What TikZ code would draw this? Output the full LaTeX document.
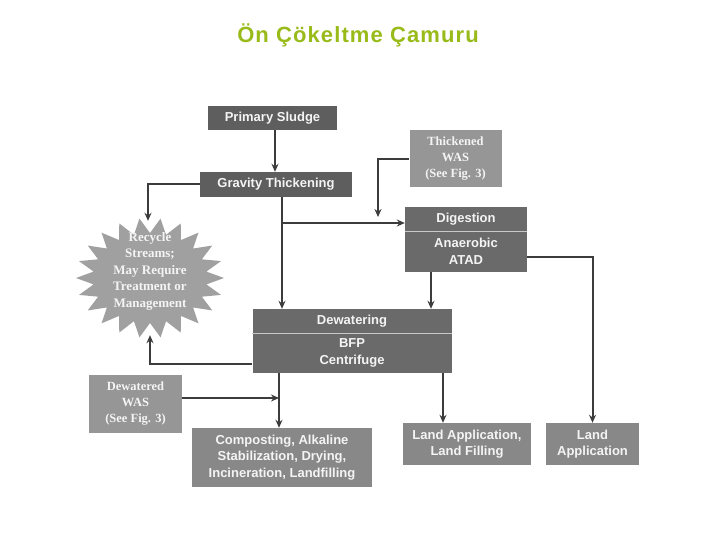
\documentclass[tikz,border=0pt]{standalone}
\usepackage{fontspec}
\setmainfont{Liberation Serif}
\setsansfont{Liberation Sans}
\newfontfamily\titlefont[LetterSpace=5]{Liberation Sans}
\usetikzlibrary{arrows.meta,calc}
\definecolor{titlegreen}{HTML}{99BB1A}
\definecolor{darkbox}{HTML}{5E5E5E}
\definecolor{midbox}{HTML}{6A6A6A}
\definecolor{lightbox}{HTML}{888888}
\definecolor{serifbox}{HTML}{969696}
\definecolor{starfill}{HTML}{A0A0A0}
\definecolor{linec}{HTML}{3C3C3C}
\definecolor{txt}{HTML}{F4F4F4}
\definecolor{divider}{HTML}{C8C8C8}
\begin{document}
\begin{tikzpicture}[x=1pt,y=-1pt,
  box/.style={rectangle, inner sep=0pt, text=txt, align=center,
    font=\sffamily\bfseries\fontsize{13}{16.5}\selectfont},
  sbox/.style={rectangle, inner sep=0pt, text=txt, align=center, fill=serifbox,
    font=\rmfamily\bfseries\fontsize{12.5}{16}\selectfont},
  arr/.style={draw=linec, line width=2pt, -{Stealth[length=8pt,width=7pt]}},
  divline/.style={draw=divider, line width=0.8pt}]
\useasboundingbox (0,0) rectangle (720,540);

% title
\node[text=titlegreen, font=\titlefont\bfseries\fontsize{22}{24}\selectfont] (title) at (358,35) {Ön Çökeltme Çamuru};

% star
\fill[starfill] (224,278) \foreach \i in {1,...,43} {-- ({150+(isodd(\i)?57:74)*cos(\i*360/44)},{278+(isodd(\i)?45:60)*sin(\i*360/44)})} -- cycle;
\node[rectangle, minimum width=148pt, minimum height=114pt, inner sep=0pt, text=txt, align=center,
  font=\rmfamily\bfseries\fontsize{13}{16.5}\selectfont] (star) at (150,278)
  {\raisebox{4pt}[0pt][0pt]{\begin{tabular}{@{}c@{}}Recycle\\Streams;\\May Require\\Treatment or\\Management\end{tabular}}};

% boxes
\node[box, fill=darkbox, minimum width=129pt, minimum height=24pt] (ps) at (272.5,118) {Primary Sludge};
\node[box, fill=darkbox, minimum width=152pt, minimum height=25pt] (gt) at (276,184.5) {Gravity Thickening};
\node[sbox, minimum width=92pt, minimum height=57pt] (tw) at (455.5,159) {Thickened\\WAS\\(See Fig. 3)};
\node[box, fill=midbox, minimum width=122pt, minimum height=24pt] (dig) at (466,219) {Digestion};
\node[box, fill=midbox, minimum width=122pt, minimum height=41pt] (atad) at (466,251.5) {Anaerobic\\ATAD};
\draw[divline] (dig.south west) -- (dig.south east);
\node[box, fill=midbox, minimum width=199pt, minimum height=24pt] (dw) at (352,321) {Dewatering};
\node[box, fill=midbox, minimum width=199pt, minimum height=40pt] (bfp) at (352,353) {BFP\\Centrifuge};
\draw[divline] (dw.south west) -- (dw.south east);
\node[sbox, minimum width=93pt, minimum height=58pt] (dwas) at (135.5,404) {Dewatered\\WAS\\(See Fig. 3)};
\node[box, fill=lightbox, minimum width=180pt, minimum height=59pt] (comp) at (282,457.5) {Composting, Alkaline\\Stabilization, Drying,\\Incineration, Landfilling};
\node[box, fill=lightbox, minimum width=128pt, minimum height=42pt] (lalf) at (467,444) {Land Application,\\Land Filling};
\node[box, fill=lightbox, minimum width=93pt, minimum height=42pt] (la) at (592.5,444) {Land\\Application};

% helper coordinates
\coordinate (psout) at ([xshift=2.5pt]ps.south);
\coordinate (gtout) at ([xshift=6pt]gt.south);
\coordinate (br) at (282,223);
\coordinate (twend) at (378,217);
\coordinate (atadout) at ([xshift=-35pt]atad.south);
\coordinate (atadright) at ([yshift=-5.5pt]atad.east);
\coordinate (bfpleft) at ([yshift=-11pt]bfp.west);
\coordinate (bfpout1) at ([xshift=-73pt]bfp.south);
\coordinate (bfpout2) at ([xshift=91pt]bfp.south);
\coordinate (dwasout) at ([yshift=6pt]dwas.east);
\coordinate (startop) at ([xshift=-2pt]star.north);

% connectors
\draw[arr] (psout) -- (psout |- gt.north);
\draw[arr] (gt.west) -| (startop);
\draw[arr] (gtout) -- (gtout |- dw.north);
\draw[arr] (br) -- (br -| dig.west);
\draw[arr] (tw.west) -| (twend);
\draw[arr] (atadout) -- (atadout |- dw.north);
\draw[arr] (atadright) -| (la.north);
\draw[arr] (bfpleft) -| (star.south);
\draw[arr] (bfpout1) -- (bfpout1 |- comp.north);
\draw[arr] (dwasout) -- (dwasout -| bfpout1);
\draw[arr] (bfpout2) -- (bfpout2 |- lalf.north);
\end{tikzpicture}
\end{document}
